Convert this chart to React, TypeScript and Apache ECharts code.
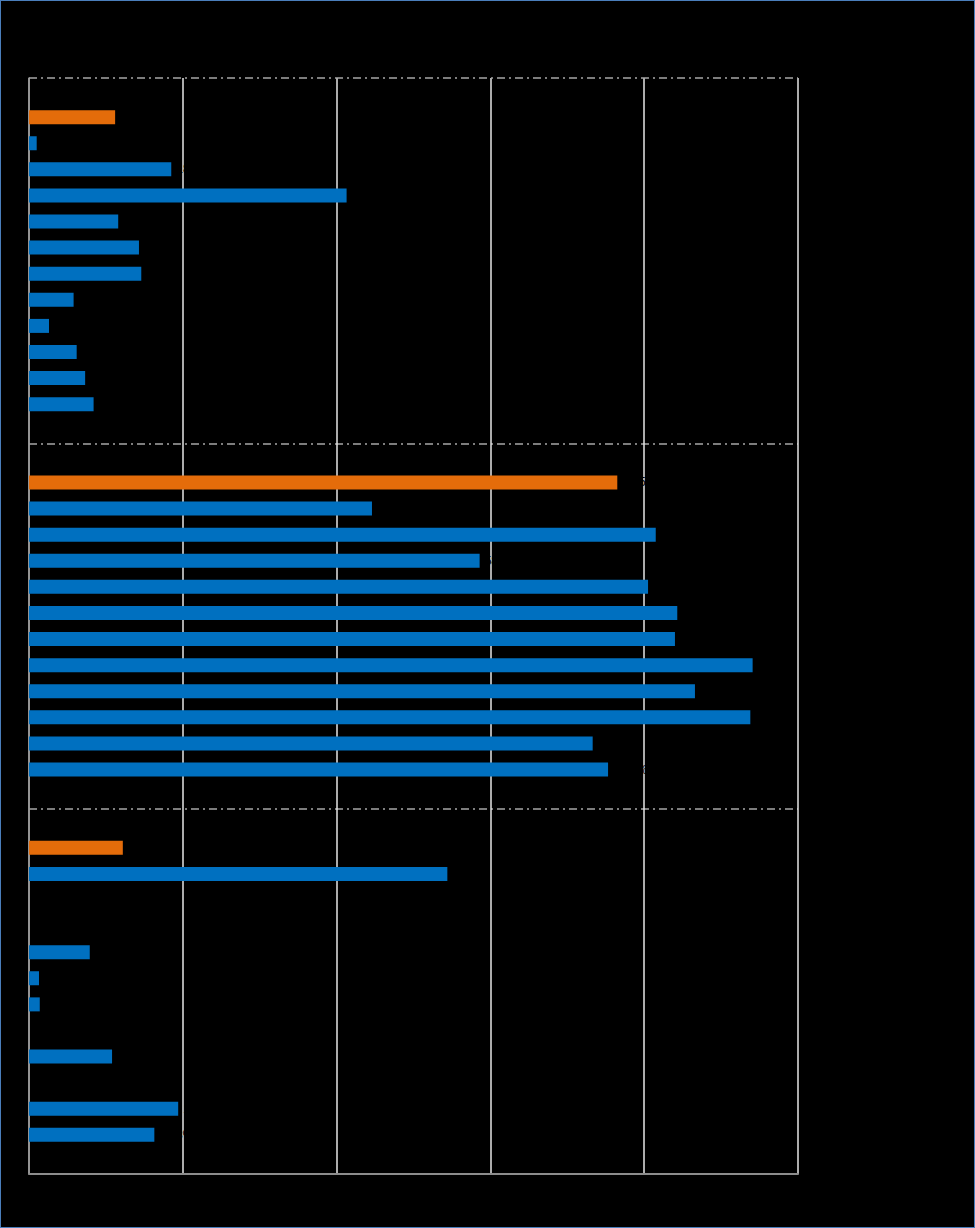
import React, { useEffect, useRef } from "react";
import * as echarts from "echarts";

// Values (percent of axis, axis 0–100)
const groupAValues = [11.2, 1.0, 18.5, 41.3, 11.6, 14.3, 14.6, 5.8, 2.6, 6.2, 7.3, 8.4];
const groupBValues = [76.5, 44.6, 81.5, 58.6, 80.5, 84.3, 84.0, 94.1, 86.6, 93.8, 73.3, 75.3];
const groupCValues = [12.2, 54.4, null, null, 7.9, 1.3, 1.4, null, 10.8, null, 19.4, 16.3];
const groupLabels = ["A", "B", "C"];
const xTickValues = [0, 20, 40, 60, 80, 100];

const ORANGE = "#E46C0A";
const BLUE = "#0070C0";

export default function App() {
  const ref = useRef<HTMLDivElement>(null);

  useEffect(() => {
    document.body.style.margin = "0";
    const chart = echarts.init(ref.current!, null, { renderer: "svg" });

    const groups = [groupAValues, groupBValues, groupCValues];
    const categories: string[] = [];
    const data: any[] = [];
    groups.forEach((vals, g) => {
      categories.push(`${groupLabels[g]}-top`);
      data.push(null);
      vals.forEach((v, i) => {
        categories.push(`${groupLabels[g]}${i + 1}`);
        data.push({
          value: v,
          itemStyle: { color: i === 0 ? ORANGE : BLUE },
        });
      });
      categories.push(`${groupLabels[g]}-end`);
      data.push(null);
    });
    const perGroup = groupAValues.length + 2;
    const total = categories.length;

    chart.setOption({
      animation: false,
      backgroundColor: "#000000",
      grid: { left: 28, top: 77, width: 769, height: 1096, containLabel: false },
      xAxis: {
        type: "value",
        min: xTickValues[0],
        max: xTickValues[xTickValues.length - 1],
        interval: xTickValues[1] - xTickValues[0],
        axisLine: { show: true, lineStyle: { color: "#8C8C8C", width: 2 } },
        axisTick: { show: false },
        axisLabel: { color: "#000000", fontSize: 12, formatter: "{value}%" },
        splitLine: { show: true, lineStyle: { color: "#E6E6E6", width: 1.5 } },
      },
      yAxis: {
        type: "category",
        inverse: true,
        data: categories,
        axisLine: { show: true, lineStyle: { color: "#8C8C8C", width: 1.5 } },
        axisTick: { show: false },
        axisLabel: { show: false },
        splitLine: {
          show: true,
          interval: (index: number) => index % perGroup === 0 && index > 0 && index < total,
          lineStyle: { color: "#A6A6A6", width: 1.5, type: [8, 4, 2, 4] },
        },
      },
      series: [
        {
          type: "bar",
          data,
          barWidth: 14,
          label: {
            show: true,
            position: "right",
            color: "#000000",
            fontSize: 12,
            formatter: (p: any) => (p.value == null ? "" : `${p.value}%`),
          },
        },
      ],
      graphic: [
        {
          type: "line",
          shape: { x1: 28, y1: 77, x2: 797, y2: 77 },
          style: { stroke: "#A6A6A6", lineWidth: 1.5, lineDash: [8, 4, 2, 4] },
          silent: true,
          z: 10,
        },
      ],
    });

    return () => chart.dispose();
  }, []);

  return (
    <div
      style={{
        position: "relative",
        width: 975,
        height: 1228,
        boxSizing: "border-box",
        border: "1px solid #4A7EBB",
        background: "#000000",
      }}
    >
      <div ref={ref} style={{ width: 973, height: 1226 }} />
    </div>
  );
}
